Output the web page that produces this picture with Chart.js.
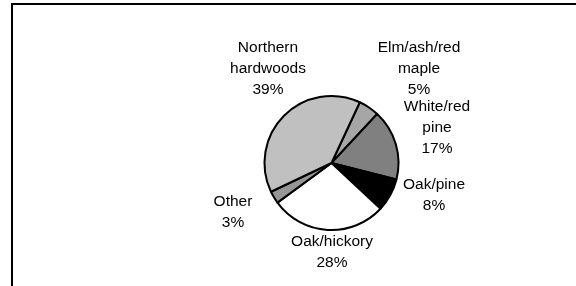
<!DOCTYPE html>
<html>
<head>
<meta charset="utf-8">
<script src="https://cdn.jsdelivr.net/npm/chart.js@4"></script>
<style>
    html, body { margin: 0; padding: 0; background: #fff; overflow: hidden; }
    #wrap { position: relative; width: 576px; height: 286px; }
    #frame {
        position: absolute; left: 11px; top: 3px; width: 700px; height: 400px;
        border-top: 2px solid #000; border-left: 2px solid #000;
    }
    #forestChart { position: absolute; left: 0; top: 0; }
</style>
</head>
<body>
<div id="wrap">
    <div id="frame"></div>
    <canvas id="forestChart" width="576" height="286"></canvas>
</div>
<script>
// Forest type shares (percent), clockwise from the top-right
const categories = ['Elm/ash/red maple', 'White/red pine', 'Oak/pine', 'Oak/hickory', 'Other', 'Northern hardwoods'];
const labelLines = [
    ['Elm/ash/red', 'maple'],
    ['White/red', 'pine'],
    ['Oak/pine'],
    ['Oak/hickory'],
    ['Other'],
    ['Northern', 'hardwoods']
];
const shares = [5, 17, 8, 28, 3, 39];
const sliceColors = ['#a6a6a6', '#808080', '#000000', '#ffffff', '#969696', '#c0c0c0'];

// where each label block is centred (x, y of first line)
const labelAnchors = [
    [419, 48], [437, 107], [434, 185], [332, 242], [233, 202], [268, 48]
];
const LINE_GAP = 21;

const sliceLabels = {
    id: 'sliceLabels',
    afterDraw(chart) {
        const ctx = chart.ctx;
        ctx.save();
        ctx.font = '15.5px "Liberation Sans", Arial, sans-serif';
        ctx.fillStyle = '#000';
        ctx.textAlign = 'center';
        ctx.textBaseline = 'middle';
        labelLines.forEach((lines, i) => {
            const [x, y] = labelAnchors[i];
            const all = lines.concat([shares[i] + '%']);
            all.forEach((t, j) => ctx.fillText(t, x, y + j * LINE_GAP));
        });
        ctx.restore();
    }
};

document.addEventListener('DOMContentLoaded', function() {
    const ctx = document.getElementById('forestChart');
    new Chart(ctx, {
        type: 'pie',
        data: {
            labels: categories,
            datasets: [{
                data: shares,
                backgroundColor: sliceColors,
                borderColor: '#000',
                borderWidth: 2,
                radius: 67
            }]
        },
        options: {
            responsive: false,
            animation: false,
            rotation: 25,
            layout: { padding: { left: 87, right: 0, top: 40, bottom: 0 } },
            plugins: {
                legend: { display: false },
                tooltip: { enabled: false }
            }
        },
        plugins: [sliceLabels]
    });
});
</script>
</body>
</html>
